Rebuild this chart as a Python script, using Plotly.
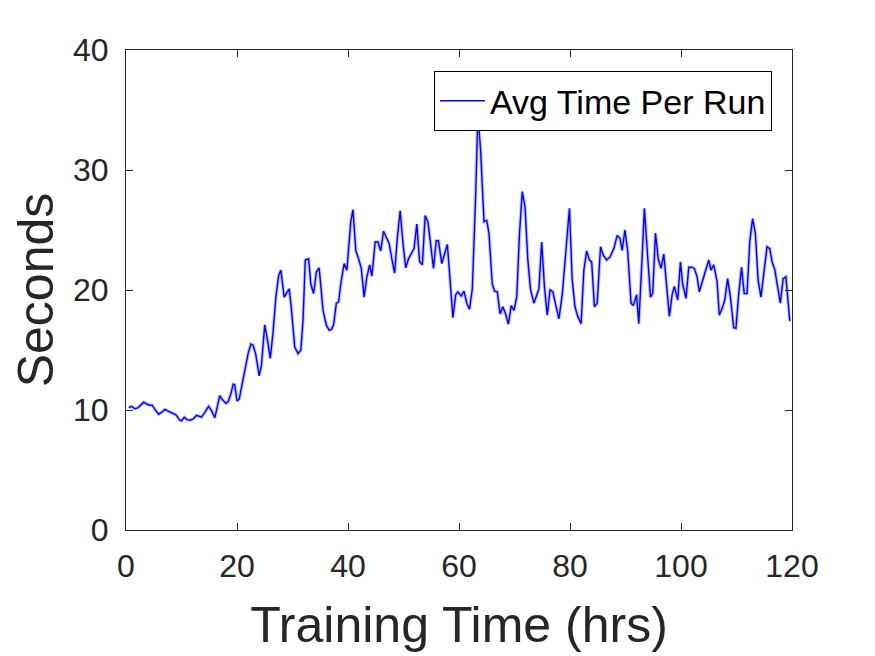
import plotly.graph_objects as go

# average time per run over training
hours = [
    0.5, 1.0, 1.6, 2.2, 3.2, 3.7, 4.3, 4.7, 5.2, 5.9, 6.4, 7.0, 7.6, 8.5, 9.0,
    9.7, 10.0, 10.5, 11.0, 11.6, 12.1, 12.7, 13.0, 13.6, 14.2, 14.9, 15.4, 16.0,
    16.9, 17.2, 18.0, 18.4, 18.9, 19.3, 19.6, 20.0, 20.4,
    21.4, 22.0, 22.5, 22.9, 23.4, 24.0, 24.4, 25.0, 25.5, 26.0, 26.5, 27.0, 27.5,
    27.9, 28.5, 28.9, 29.4, 29.8, 30.4, 31.0, 31.5, 31.9, 32.3, 32.9, 33.3, 33.8,
    34.3, 34.8, 35.1, 35.5, 36.1, 36.6, 37.0, 37.4, 37.9, 38.3,
    38.7, 39.3, 39.8, 40.5, 40.9, 41.4, 41.9, 42.4, 42.9, 43.4, 43.9, 44.3, 44.9,
    45.4, 45.9, 46.4, 46.9, 47.4, 47.9, 48.4, 48.9, 49.4, 49.9, 50.4, 50.9, 51.4,
    51.9, 52.4, 52.9, 53.4, 53.9, 54.4, 54.9, 55.4, 55.9, 56.3, 56.9, 57.4, 57.9,
    58.4, 58.9, 59.4, 59.8, 60.4, 60.9, 61.4, 61.9, 62.4, 63.0, 63.4, 63.9, 64.5,
    65.0, 65.4, 66.0, 66.4, 66.9, 67.4, 67.9, 68.4, 68.9, 69.4, 69.9, 70.4, 70.9,
    71.4, 71.9, 72.4, 72.9, 73.5, 73.9, 74.4, 74.9, 75.4, 75.9, 76.4, 76.9, 77.4,
    78.0, 78.6, 79.3, 79.9,
    80.4, 80.9, 81.4, 82.0, 82.5, 83.0, 83.5, 83.9, 84.4, 84.9, 85.5, 86.0, 86.6,
    87.2, 87.9, 88.5, 89.0, 89.4, 89.9, 90.4, 91.0, 91.4, 92.0, 92.4, 93.0, 93.4,
    94.0, 94.5, 94.9, 95.4, 95.9, 96.4, 96.9, 97.3, 97.9, 98.4, 98.8, 99.4, 99.9,
    100.3, 100.9, 101.4, 101.9, 102.4, 102.9, 103.3, 103.9, 104.4, 105.0, 105.4,
    105.9, 106.5, 106.9, 107.4, 107.9, 108.4, 108.9, 109.5, 109.9, 110.4, 110.9,
    111.4, 111.9, 112.4, 112.9, 113.4, 113.9, 114.4, 114.9, 115.5, 116.0, 116.4,
    116.9, 117.4, 117.9, 118.4, 118.9, 119.6,
]
seconds = [
    10.2, 10.3, 10.1, 10.2, 10.65, 10.5, 10.4, 10.4, 10.05, 9.65, 9.8, 10.05, 9.9,
    9.7, 9.6, 9.15, 9.1, 9.4, 9.2, 9.15, 9.25, 9.55, 9.5, 9.4, 9.8, 10.3, 9.95,
    9.35, 11.2, 10.95, 10.55, 10.7, 11.35, 12.15, 12.1, 10.75, 10.9,
    13.3, 14.7, 15.5, 15.4, 14.6, 12.85, 13.7, 17.1, 15.8, 14.3, 16.5, 19.4, 21.2,
    21.65, 19.4, 19.7, 20.1, 18.45, 15.25, 14.7, 15.0, 17.5, 22.5, 22.6, 20.5,
    19.7, 21.5, 21.85, 20.5, 18.3, 17.05, 16.65, 16.7, 17.1, 18.9, 19.0,
    20.5, 22.2, 21.65, 25.7, 26.7, 23.3, 22.6, 21.8, 19.4, 21.1, 22.1, 21.15, 24.0,
    24.0, 23.25, 24.9, 24.4, 23.9, 22.6, 21.4, 24.4, 26.6, 23.9, 21.85, 22.6, 23.0,
    23.45, 25.5, 22.35, 22.1, 26.2, 25.7, 23.9, 21.8, 24.1, 24.1, 22.2, 23.0, 23.8,
    20.8, 17.7, 19.6, 19.85, 19.5, 19.9, 18.9, 18.4, 20.1, 27.75, 34.6, 31.6, 25.7,
    25.8, 24.7, 20.5, 19.9, 19.85, 18.0, 18.6, 18.0, 17.15, 18.7, 18.3, 19.4, 24.7,
    28.2, 26.9, 22.5, 20.0, 18.9, 19.4, 20.1, 24.0, 20.25, 17.9, 20.0, 19.85, 18.9,
    17.6, 19.6, 23.8, 26.8,
    20.8, 18.6, 17.8, 17.2, 21.65, 23.25, 22.5, 22.35, 18.6, 18.9, 23.6, 22.9, 22.5,
    22.75, 23.45, 24.55, 24.3, 23.3, 25.0, 23.2, 18.9, 18.7, 19.6, 17.2, 22.75, 26.8,
    22.75, 19.4, 19.7, 24.75, 22.6, 21.8, 23.0, 20.8, 17.8, 19.6, 20.3, 19.15, 22.35,
    20.5, 19.3, 21.9, 21.9, 21.8, 21.1, 19.85, 20.8, 21.5, 22.5, 21.65,
    22.1, 20.7, 17.9, 18.45, 19.2, 20.95, 19.4, 16.85, 16.8, 19.7, 21.9,
    19.7, 19.7, 24.1, 25.95, 24.7, 20.8, 19.4, 21.5, 23.6, 23.45, 22.35,
    21.7, 20.25, 18.9, 20.95, 21.1, 17.4,
]

ink = '#262626'

fig = go.Figure()
# faint band around the mean line
fig.add_trace(go.Scatter(x=hours, y=seconds, mode='lines',
                         line=dict(color='rgba(80,80,255,0.35)', width=3.5),
                         showlegend=False, hoverinfo='skip'))
fig.add_trace(go.Scatter(x=hours, y=seconds, mode='lines', name='Avg Time Per Run',
                         line=dict(color='#0000ff', width=1.4)))

axis_common = dict(
    showline=True, linecolor=ink, linewidth=1, mirror='ticks',
    ticks='inside', ticklen=7, tickcolor=ink, showgrid=False, zeroline=False,
    tickfont=dict(size=32, color=ink),
)
fig.update_xaxes(range=[0, 120], dtick=20, ticklabelstandoff=8,
                 title=dict(text='Training Time (hrs)', font=dict(size=50, color=ink), standoff=23),
                 **axis_common)
fig.update_yaxes(range=[0, 40], dtick=10, ticklabelstandoff=10,
                 title=dict(text='Seconds', font=dict(size=50, color=ink), standoff=5),
                 **axis_common)

# page body adds an 8px offset, margins compensate
fig.update_layout(
    width=875, height=656,
    margin=dict(l=118, r=91, t=42, b=134),
    paper_bgcolor='white', plot_bgcolor='white',
    font=dict(family='Liberation Sans, Arial, sans-serif', color=ink),
    legend=dict(x=0.970, y=0.956, xanchor='right', yanchor='top',
                bgcolor='white', bordercolor='black', borderwidth=1,
                font=dict(size=34, color='black'), itemwidth=45),
    showlegend=True,
)

fig.write_html('out.html')
